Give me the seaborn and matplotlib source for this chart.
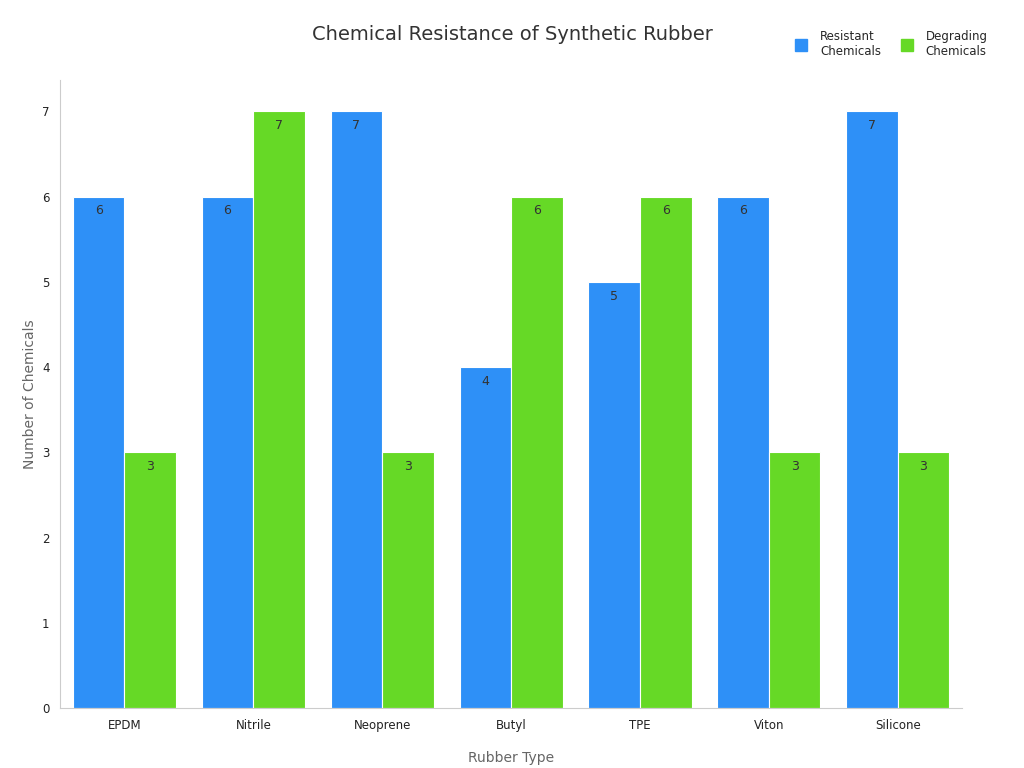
import matplotlib
matplotlib.use("Agg")
import matplotlib.pyplot as plt
import seaborn as sns
import pandas as pd

categories = ["EPDM", "Nitrile", "Neoprene", "Butyl", "TPE", "Viton", "Silicone"]
resistant = [6, 6, 7, 4, 5, 6, 7]
degrading = [3, 7, 3, 6, 6, 3, 3]
series_names = ["Resistant\nChemicals", "Degrading\nChemicals"]

df = pd.DataFrame({
    "Rubber Type": categories * 2,
    "Count": resistant + degrading,
    "Series": [series_names[0]] * len(categories) + [series_names[1]] * len(categories),
})

sns.set_style("white")
fig = plt.figure(figsize=(10.24, 7.68), dpi=100)
ax = fig.add_axes([0.0586, 0.078, 0.881, 0.818])
palette = ["#2E90F7", "#66D926"]
sns.barplot(data=df, x="Rubber Type", y="Count", hue="Series", palette=palette,
            ax=ax, width=0.8, edgecolor="white", linewidth=0.8, saturation=1, legend=False)

for cont in ax.containers:
    ax.bar_label(cont, labels=[f"{int(v)}" for v in cont.datavalues], padding=-15,
                 fontsize=9, color="#333333")

ax.set_ylim(0, 7.37)
ax.set_xlim(-0.5, 6.5)
ax.set_xlabel("Rubber Type", fontsize=10, color="#666666", labelpad=14)
ax.set_ylabel("Number of Chemicals", fontsize=10, color="#666666")
ax.tick_params(axis="both", labelsize=8.5, colors="#222222", length=4)
ax.tick_params(axis="both", color="#999999")
for s in ["top", "right"]:
    ax.spines[s].set_visible(False)
for s in ["left", "bottom"]:
    ax.spines[s].set_color("#cccccc")

fig.text(0.5, 0.955, "Chemical Resistance of Synthetic Rubber", ha="center", va="center",
         fontsize=14, color="#333333")

from matplotlib.lines import Line2D
handles = [Line2D([], [], marker="s", linestyle="", color=c, markersize=8) for c in palette]
fig.legend(handles, series_names, loc="upper right", bbox_to_anchor=(0.975, 0.975),
           frameon=False, ncol=2, fontsize=8.5, handletextpad=0.6, columnspacing=1.2)

fig.savefig("out.png", dpi=100)
